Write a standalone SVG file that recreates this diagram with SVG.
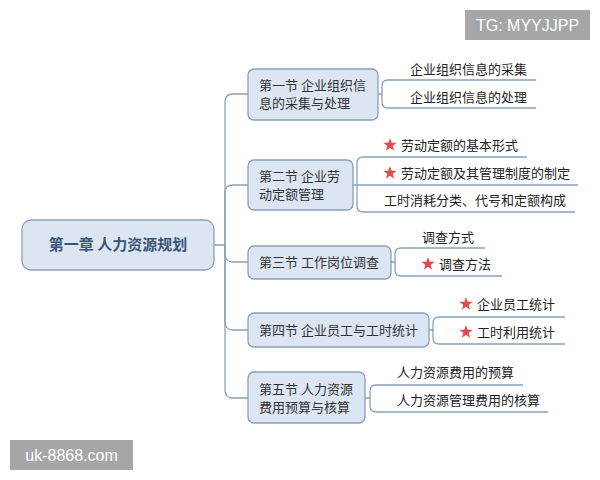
<svg xmlns="http://www.w3.org/2000/svg" width="600" height="480" viewBox="0 0 600 480">
<defs>
<style>
.node{fill:#dce6f2;stroke:#8aa0bb;stroke-width:1.3}
.root-t{font-family:"Noto Sans CJK SC","Noto Sans",sans-serif;font-size:15px;font-weight:bold;fill:#3b5577}
.sec-t{font-family:"Noto Sans CJK SC","Noto Sans",sans-serif;font-size:13px;fill:#333}
.leaf-t{font-family:"Noto Sans CJK SC","Noto Sans",sans-serif;font-size:13px;fill:#222}
.ln{fill:none;stroke:#8aa0bb;stroke-width:1.3}
.star{fill:#e5484d}
.wm{fill:#a6a6a6}
.wm-t{font-family:"Liberation Sans",Arial,sans-serif;font-size:16px;fill:#fff}
</style>
<polygon id="star" class="star" points="0,-7 1.7,-2.3 6.7,-2.2 2.7,0.9 4.1,5.7 0,2.8 -4.1,5.7 -2.7,0.9 -6.7,-2.2 -1.7,-2.3"/>
</defs>
<rect width="600" height="480" fill="#fff"/>
<g id="connectors">
<path class="ln" d="M214,245 H225 V102 Q225,94 233,94 H248"/>
<path class="ln" d="M225,245 V193 Q225,185 233,185 H248"/>
<path class="ln" d="M225,245 V254 Q225,262 233,262 H248"/>
<path class="ln" d="M225,245 V322 Q225,330 233,330 H248"/>
<path class="ln" d="M225,245 V390 Q225,398 233,398 H248"/>
<path class="ln" d="M378,94 H382 V86 Q382,80 388,80 H536"/>
<path class="ln" d="M382,94 V102 Q382,108 388,108 H536"/>
<path class="ln" d="M353,185 H357 V163 Q357,157 363,157 H527"/>
<path class="ln" d="M357,185 H578"/>
<path class="ln" d="M357,185 V206 Q357,212 363,212 H575"/>
<path class="ln" d="M391,262 H395 V254 Q395,248 401,248 H485"/>
<path class="ln" d="M395,262 V270 Q395,276 401,276 H502"/>
<path class="ln" d="M429,330 H433 V323 Q433,317 439,317 H565"/>
<path class="ln" d="M433,330 V338 Q433,344 439,344 H565"/>
<path class="ln" d="M365,398 H370 V391 Q370,385 376,385 H523"/>
<path class="ln" d="M370,398 V406 Q370,412 376,412 H548"/>
</g>
<g id="root">
<rect class="node" x="22" y="220" width="192" height="50" rx="9"/>
<text class="root-t" x="118" y="250" text-anchor="middle">第一章 人力资源规划</text>
</g>
<g id="sec1">
<rect class="node" x="248" y="69" width="130" height="51" rx="6"/>
<text class="sec-t" x="259" y="90">第一节 企业组织信</text>
<text class="sec-t" x="259" y="108">息的采集与处理</text>
</g>
<g id="sec2">
<rect class="node" x="248" y="160" width="105" height="50" rx="6"/>
<text class="sec-t" x="259" y="181">第二节 企业劳</text>
<text class="sec-t" x="259" y="199">动定额管理</text>
</g>
<g id="sec3">
<rect class="node" x="248" y="246" width="143" height="33" rx="6"/>
<text class="sec-t" x="259" y="267">第三节 工作岗位调查</text>
</g>
<g id="sec4">
<rect class="node" x="248" y="313" width="181" height="34" rx="6"/>
<text class="sec-t" x="259" y="335">第四节 企业员工与工时统计</text>
</g>
<g id="sec5">
<rect class="node" x="248" y="372" width="117" height="51" rx="6"/>
<text class="sec-t" x="259" y="394">第五节 人力资源</text>
<text class="sec-t" x="259" y="412">费用预算与核算</text>
</g>
<g id="leaf1a"><text class="leaf-t" x="410" y="74">企业组织信息的采集</text></g>
<g id="leaf1b"><text class="leaf-t" x="410" y="102">企业组织信息的处理</text></g>
<g id="leaf2a"><use href="#star" x="390" y="145"/><text class="leaf-t" x="401" y="150">劳动定额的基本形式</text></g>
<g id="leaf2b"><use href="#star" x="390" y="173"/><text class="leaf-t" x="401" y="178">劳动定额及其管理制度的制定</text></g>
<g id="leaf2c"><text class="leaf-t" x="384" y="205">工时消耗分类、代号和定额构成</text></g>
<g id="leaf3a"><text class="leaf-t" x="422" y="242">调查方式</text></g>
<g id="leaf3b"><use href="#star" x="428" y="264"/><text class="leaf-t" x="439" y="269">调查方法</text></g>
<g id="leaf4a"><use href="#star" x="466" y="304"/><text class="leaf-t" x="477" y="309">企业员工统计</text></g>
<g id="leaf4b"><use href="#star" x="466" y="332"/><text class="leaf-t" x="477" y="337">工时利用统计</text></g>
<g id="leaf5a"><text class="leaf-t" x="397" y="377">人力资源费用的预算</text></g>
<g id="leaf5b"><text class="leaf-t" x="397" y="405">人力资源管理费用的核算</text></g>
<g id="wm1">
<rect class="wm" x="465" y="10" width="125" height="30"/>
<text class="wm-t" x="527.5" y="31" text-anchor="middle">TG: MYYJJPP</text>
</g>
<g id="wm2">
<rect class="wm" x="10" y="440" width="123" height="30"/>
<text class="wm-t" x="71.5" y="461" text-anchor="middle">uk-8868.com</text>
</g>
</svg>
